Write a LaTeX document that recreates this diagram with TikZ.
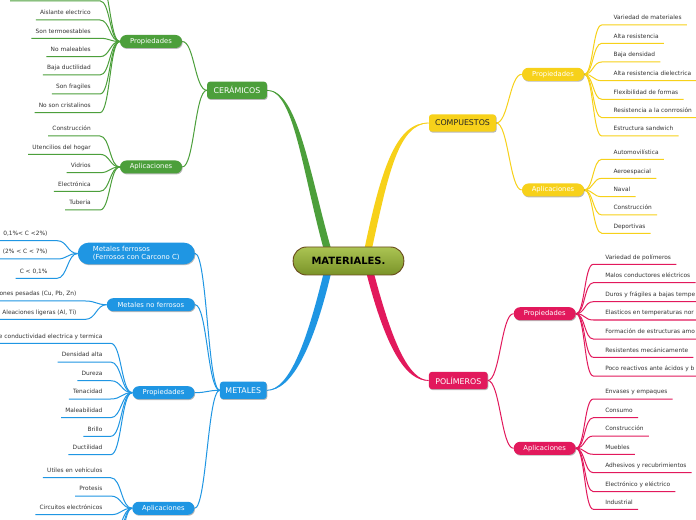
\documentclass[tikz,border=0pt]{standalone}
\usepackage{fontspec}
\setmainfont{DejaVu Sans}
\usetikzlibrary{calc,shadows}
\pgfdeclarelayer{bg}
\pgfsetlayers{bg,main}
\definecolor{cgreen}{HTML}{4C9F3B}
\definecolor{cyellow}{HTML}{F7D11A}
\definecolor{cblue}{HTML}{1F96E3}
\definecolor{cpink}{HTML}{E2195C}
\definecolor{roottop}{HTML}{ABC453}
\definecolor{rootbot}{HTML}{7A9328}
\definecolor{rootborder}{HTML}{6B4C1E}
\definecolor{leaftext}{HTML}{333333}
\tikzset{
  shad/.style={drop shadow={shadow xshift=0.5pt, shadow yshift=-0.7pt, opacity=0.28, fill=black}},
  rootnode/.style={draw=rootborder, line width=0.7pt, rounded corners=10pt, top color=roottop, bottom color=rootbot, minimum width=83pt, minimum height=21pt, inner sep=0pt, font=\fontsize{7.5}{9}\selectfont\bfseries},
  mainnode/.style={shad, rounded corners=2.2pt, minimum height=13pt, inner sep=0pt, font=\fontsize{5.9}{7}\selectfont},
  subnode/.style={shad, rounded corners=4.8pt, minimum width=46.5pt, minimum height=9.75pt, inner sep=0pt, text=white, font=\fontsize{5.1}{6}\selectfont},
  leaf/.style={inner xsep=0pt, inner ysep=3.75pt, text depth=0pt, text=leaftext, font=\fontsize{4.4}{5}\selectfont},
  leafL/.style={leaf, anchor=south east},
  leafR/.style={leaf, anchor=south west},
  conn/.style={line width=0.75pt},
}
\begin{document}
\begin{tikzpicture}[x=0.75pt,y=-0.75pt]
\begin{pgfonlayer}{bg}
\fill[white] (0,0) rectangle (696,520);
\end{pgfonlayer}
\useasboundingbox (0,0) rectangle (696,520);

% ---------- nodes ----------
\node[rootnode] (root) at (348.5,261) {MATERIALES.};
\node[mainnode, fill=cgreen, text=white, minimum width=44.8pt] (cer) at (237,90.3) {CERÁMICOS};
\node[mainnode, fill=cyellow, text=black!85, minimum width=50.25pt] (comp) at (462.5,123) {COMPUESTOS};
\node[mainnode, fill=cblue, text=white, minimum width=35pt] (met) at (243.3,390.3) {METALES};
\node[mainnode, fill=cpink, text=white, minimum width=44pt] (pol) at (458.3,380.5) {POLÍMEROS};

\node[subnode, fill=cgreen] (cp) at (151,41.5) {Propiedades};
\node[subnode, fill=cgreen] (ca) at (151,167) {Aplicaciones};
\node[subnode, fill=cyellow] (yp) at (553,74.3) {Propiedades};
\node[subnode, fill=cyellow] (ya) at (553,190) {Aplicaciones};
\node[subnode, fill=cpink] (pp) at (544.7,313.7) {Propiedades};
\node[subnode, fill=cpink] (pa) at (544.7,448.3) {Aplicaciones};
\node[subnode, fill=cblue, minimum width=87.75pt, minimum height=16.2pt, rounded corners=8pt, align=left, font=\fontsize{5.2}{6}\selectfont] (mf) at (136.3,253.5) {Metales ferrosos\\(Ferrosos con Carcono C)};
\node[subnode, fill=cblue, minimum width=66pt] (mn) at (150.8,304.7) {Metales no ferrosos};
\node[subnode, fill=cblue] (mp) at (163.5,392.7) {Propiedades};
\node[subnode, fill=cblue] (ma) at (163.3,508.3) {Aplicaciones};

% ---------- trunk connectors ----------
\begin{pgfonlayer}{bg}
\fill[cgreen] ($(root.north)+(-25,2)$) .. controls (302,170) and (294,91.3) .. (cer.east)
  .. controls (297,89.3) and (309,170) .. ($(root.north)+(-17.5,2)$) -- cycle;
\draw[cgreen, line width=0.6pt] ($(root.north)+(-21.3,2)$) .. controls (305.5,170) and (295.5,90.3) .. (cer.east);
\fill[cyellow] ($(root.north)+(16,2)$) .. controls (381,170) and (396,121.5) .. (comp.west)
  .. controls (399,124.7) and (389,170) .. ($(root.north)+(23.5,2)$) -- cycle;
\draw[cyellow, line width=0.6pt] ($(root.north)+(19.7,2)$) .. controls (385,170) and (397.5,123) .. (comp.west);
\fill[cblue] ($(root.south)+(-25,-2)$) .. controls (306,345) and (289,389) .. (met.east)
  .. controls (292,391.6) and (314,345) .. ($(root.south)+(-17.5,-2)$) -- cycle;
\draw[cblue, line width=0.6pt] ($(root.south)+(-21.3,-2)$) .. controls (310,345) and (290.5,390.3) .. (met.east);
\fill[cpink] ($(root.south)+(18,-2)$) .. controls (385,345) and (405,381.8) .. (pol.west)
  .. controls (409,379.2) and (393,345) .. ($(root.south)+(25.5,-2)$) -- cycle;
\draw[cpink, line width=0.6pt] ($(root.south)+(21.7,-2)$) .. controls (389,345) and (407,380.5) .. (pol.west);

% main -> sub
\draw[conn, cgreen] (cer.west) .. controls +(-12,0) and +(12,0) .. (cp.east);
\draw[conn, cgreen] (cer.west) .. controls +(-12,0) and +(12,0) .. (ca.east);
\draw[conn, cyellow] (comp.east) .. controls +(12,0) and +(-12,0) .. (yp.west);
\draw[conn, cyellow] (comp.east) .. controls +(12,0) and +(-12,0) .. (ya.west);
\draw[conn, cpink] (pol.east) .. controls +(12,0) and +(-12,0) .. (pp.west);
\draw[conn, cpink] (pol.east) .. controls +(12,0) and +(-12,0) .. (pa.west);
\draw[conn, cblue] (met.west) .. controls +(-12,0) and +(12,0) .. (mf.east);
\draw[conn, cblue] (met.west) .. controls +(-12,0) and +(12,0) .. (mn.east);
\draw[conn, cblue] (met.west) .. controls +(-12,0) and +(12,0) .. (mp.east);
\draw[conn, cblue] (met.west) .. controls +(-12,0) and +(12,0) .. (ma.east);

% off-canvas items
\coordinate (ct1a) at (10,0.8);
\coordinate (ct1b) at (100,0.8);
\coordinate (ct2a) at (20,-18);
\coordinate (ct2b) at (100,-18);
\draw[conn, cgreen] (ct1a) -- (ct1b) .. controls +(10,0) and +(-10,0) .. (cp.west);
\draw[conn, cgreen] (ct2a) -- (ct2b) .. controls +(10,0) and +(-10,0) .. (cp.west);
\coordinate (mb1) at (112,533.3);
\coordinate (mb2) at (112,552);
\coordinate (mb3) at (112,570.7);
\draw[conn, cblue] (mb1) .. controls +(10,0) and +(-10,0) .. (ma.west);
\draw[conn, cblue] (mb2) .. controls +(10,0) and +(-10,0) .. (ma.west);
\draw[conn, cblue] (mb3) .. controls +(10,0) and +(-10,0) .. (ma.west);
\end{pgfonlayer}

% ---------- leaves: CERAMICOS ----------
\foreach \i/\t/\y in {1/{Aislante electrico}/20,2/{Son termoestables}/38.3,3/{No maleables}/56.7,4/{Baja ductilidad}/75,5/{Son fragiles}/94,6/{No son cristalinos}/112.7}{
  \node[leafL] (cpl\i) at (91,\y) {\t};
  \begin{pgfonlayer}{bg}
  \draw[conn,cgreen] ($(cpl\i.south west)+(-4,0)$) -- ($(cpl\i.south east)+(9,0)$) .. controls +(10,0) and +(-10,0) .. (cp.west);
  \end{pgfonlayer}
}
\foreach \i/\t/\y in {1/{Construcción}/136,2/{Utencilios del hogar}/154.3,3/{Vidrios}/172.7,4/{Electrónica}/191.3,5/{Tuberia}/210}{
  \node[leafL] (cal\i) at (91,\y) {\t};
  \begin{pgfonlayer}{bg}
  \draw[conn,cgreen] ($(cal\i.south west)+(-4,0)$) -- ($(cal\i.south east)+(9,0)$) .. controls +(10,0) and +(-10,0) .. (ca.west);
  \end{pgfonlayer}
}

% ---------- leaves: COMPUESTOS ----------
\foreach \i/\t/\y in {1/{Variedad de materiales}/25,2/{Alta resistencia}/43.3,3/{Baja densidad}/62,4/{Alta resistencia dielectrica}/80.7,5/{Flexibilidad de formas}/99.3,6/{Resistencia a la conrrosión}/117.7,7/{Estructura sandwich}/136}{
  \node[leafR] (ypl\i) at (613.3,\y) {\t};
  \begin{pgfonlayer}{bg}
  \draw[conn,cyellow] (yp.east) .. controls +(9,0) and +(-9,0) .. ($(ypl\i.south west)+(-11.5,0)$) -- ($(ypl\i.south east)+(5,0)$);
  \end{pgfonlayer}
}
\foreach \i/\t/\y in {1/{Automovilística}/159.3,2/{Aeroespacial}/178.3,3/{Naval}/196.7,4/{Construcción}/215,5/{Deportivas}/233.3}{
  \node[leafR] (yal\i) at (613.3,\y) {\t};
  \begin{pgfonlayer}{bg}
  \draw[conn,cyellow] (ya.east) .. controls +(9,0) and +(-9,0) .. ($(yal\i.south west)+(-11.5,0)$) -- ($(yal\i.south east)+(5,0)$);
  \end{pgfonlayer}
}

% ---------- leaves: POLIMEROS ----------
\foreach \i/\t/\y in {1/{Variedad de polímeros}/264.3,2/{Malos conductores eléctricos}/282.7,3/{Duros y frágiles a bajas tempe}/301.7,4/{Elasticos en temperaturas nor}/320,5/{Formación de estructuras amo}/339,6/{Resistentes mecánicamente}/357.3,7/{Poco reactivos ante ácidos y b}/376}{
  \node[leafR] (ppl\i) at (605,\y) {\t};
  \begin{pgfonlayer}{bg}
  \draw[conn,cpink] (pp.east) .. controls +(9,0) and +(-9,0) .. ($(ppl\i.south west)+(-11.7,0)$) -- ($(ppl\i.south east)+(5,0)$);
  \end{pgfonlayer}
}
\foreach \i/\t/\y in {1/{Envases y empaques}/399,2/{Consumo}/417.7,3/{Construcción}/436,4/{Muebles}/454.3,5/{Adhesivos y recubrimientos}/472.7,6/{Electrónico y eléctrico}/491.7,7/{Industrial}/509.3}{
  \node[leafR] (pal\i) at (605,\y) {\t};
  \begin{pgfonlayer}{bg}
  \draw[conn,cpink] (pa.east) .. controls +(9,0) and +(-9,0) .. ($(pal\i.south west)+(-11.7,0)$) -- ($(pal\i.south east)+(5,0)$);
  \end{pgfonlayer}
}

% ---------- leaves: METALES ----------
\foreach \i/\t/\y in {1/{0,1\%< C <2\%)}/240.7,2/{(2\% < C < 7\%)}/259,3/{C < 0,1\%}/278.3}{
  \node[leafL] (mfl\i) at (47.7,\y) {\t};
  \begin{pgfonlayer}{bg}
  \draw[conn,cblue] ($(mfl\i.south west)+(-4,0)$) -- ($(mfl\i.south east)+(9.5,0)$) .. controls +(10,0) and +(-10,0) .. (mf.west);
  \end{pgfonlayer}
}
\foreach \i/\t/\y in {1/{ones pesadas (Cu, Pb, Zn)}/301,2/{Aleaciones ligeras (Al, Ti)}/319.3}{
  \node[leafL] (mnl\i) at (76.7,\y) {\t};
  \begin{pgfonlayer}{bg}
  \draw[conn,cblue] ($(mnl\i.south west)+(-4,0)$) -- ($(mnl\i.south east)+(9,0)$) .. controls +(10,0) and +(-10,0) .. (mn.west);
  \end{pgfonlayer}
}
\foreach \i/\t/\y in {1/{e conductividad electrica y termica}/343.3,2/{Densidad alta}/362,3/{Dureza}/380.7,4/{Tenacidad}/399,5/{Maleabilidad}/417.7,6/{Brillo}/436.3,7/{Ductilidad}/454.7}{
  \node[leafL] (mpl\i) at (102.7,\y) {\t};
  \begin{pgfonlayer}{bg}
  \draw[conn,cblue] ($(mpl\i.south west)+(-4,0)$) -- ($(mpl\i.south east)+(8,0)$) .. controls +(11,0) and +(-11,0) .. (mp.west);
  \end{pgfonlayer}
}
\foreach \i/\t/\y in {1/{Utiles en vehículos}/477.7,2/{Protesis}/496,3/{Circuitos electrónicos}/514.7}{
  \node[leafL] (mal\i) at (102.7,\y) {\t};
  \begin{pgfonlayer}{bg}
  \draw[conn,cblue] ($(mal\i.south west)+(-4,0)$) -- ($(mal\i.south east)+(8,0)$) .. controls +(11,0) and +(-11,0) .. (ma.west);
  \end{pgfonlayer}
}
\end{tikzpicture}
\end{document}
